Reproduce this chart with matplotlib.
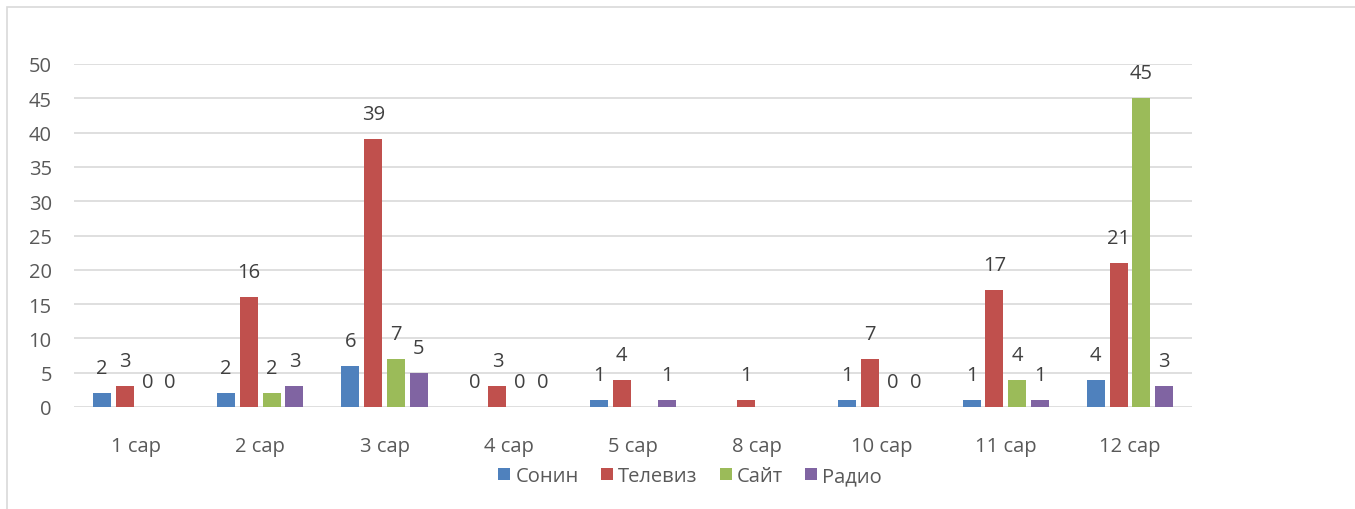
import matplotlib.pyplot as plt
import numpy as np
from matplotlib.patches import Rectangle

categories = ["1 сар", "2 сар", "3 сар", "4 сар", "5 сар", "8 сар", "10 сар", "11 сар", "12 сар"]
series_names = ["Сонин", "Телевиз", "Сайт", "Радио"]
sonin = [2, 2, 6, 0, 1, np.nan, 1, 1, 4]
televiz = [3, 16, 39, 3, 4, 1, 7, 17, 21]
sait = [0, 2, 7, 0, np.nan, np.nan, 0, 4, 45]
radio = [0, 3, 5, 0, 1, np.nan, 0, 1, 3]
colors = ["#4F81BD", "#C0504D", "#9BBB59", "#8064A2"]

plt.rcParams["font.family"] = ["Open Sans", "DejaVu Sans"]
text_color = "#595959"
fs = 14.5

fig = plt.figure(figsize=(13.55, 5.10), dpi=100)
# outer chart frame
fig.patches.append(Rectangle((7 / 1355, -0.1), 1.2, (510 - 8) / 510 + 0.1, transform=fig.transFigure,
                             fill=False, edgecolor="#D9D9D9", linewidth=1.2))

ax = fig.add_axes([74 / 1355, 0.2, (1192 - 74) / 1355, (408 - 65) / 510])
x = np.arange(len(categories))
step = 0.183
width = 0.145
for i, (name, vals) in enumerate(zip(series_names, [sonin, televiz, sait, radio])):
    pos = x + (i - 1.5) * step
    vals = np.array(vals, dtype=float)
    ax.bar(pos, np.nan_to_num(vals), width=width, color=colors[i], label=name, zorder=3)
    for p, v in zip(pos, vals):
        if np.isnan(v):
            continue
        ax.annotate(f"{int(v)}", (p, v), xytext=(0, 18), textcoords="offset points",
                    ha="center", va="center", fontsize=fs, color="#404040")

ax.set_xlim(-0.5, len(categories) - 0.5)
ax.set_ylim(0, 50)
ax.set_yticks(np.arange(0, 51, 5))
ax.grid(axis="y", color="#D9D9D9", linewidth=1.2, zorder=0)
for s in ax.spines.values():
    s.set_visible(False)
ax.tick_params(axis="both", length=0, labelsize=fs, labelcolor=text_color)
ax.tick_params(axis="y", pad=16)
ax.tick_params(axis="x", pad=21)
ax.set_xticks(x)
ax.set_xticklabels(categories)

leg = fig.legend(loc="center", bbox_to_anchor=(690 / 1355, (510 - 477) / 510), ncol=4, frameon=False,
                 fontsize=fs, handlelength=0.6, handleheight=0.6, handletextpad=0.25, columnspacing=1.1)
for t in leg.get_texts():
    t.set_color(text_color)

fig.savefig("out.png", dpi=100)
